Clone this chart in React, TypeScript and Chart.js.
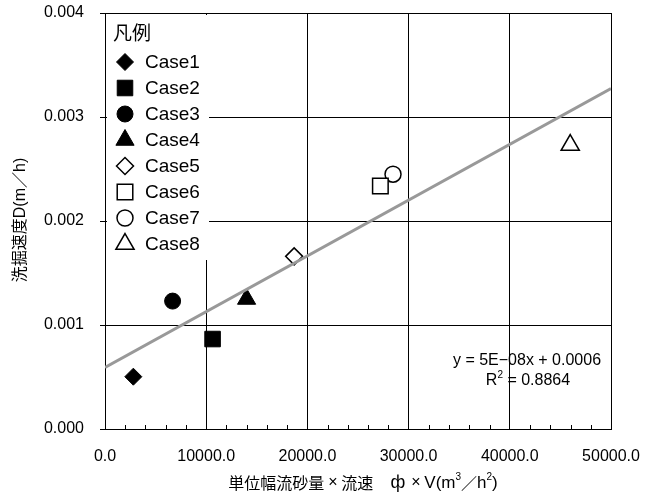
import React, { useEffect, useRef } from 'react';
import { Chart, registerables } from 'chart.js';
import { drawPoint } from 'chart.js/helpers';

Chart.register(...registerables);

// ---- data ----
const caseNames = ['Case1', 'Case2', 'Case3', 'Case4', 'Case5', 'Case6', 'Case7', 'Case8'];
const xValues = [2800, 10630, 6680, 13990, 18690, 27210, 28460, 45970];
const yValues = [0.000503, 0.000865, 0.00123, 0.00125, 0.00166, 0.002337, 0.00245, 0.00273];
const xTickValues = [0, 10000, 20000, 30000, 40000, 50000];
const yTickValues = [0, 0.001, 0.002, 0.003, 0.004];
const legendTitle = '凡例';
const equationText = 'y = 5E−08x + 0.0006';
const rSquaredText = '0.8864';
const yAxisTitle = '洗掘速度D(m／h)';

// ---- styles ----
const FONT = '"Liberation Sans", "Noto Sans CJK JP", sans-serif';
const CJK = '"Noto Sans CJK JP", sans-serif';
const pointStyles = ['rectRot', 'rect', 'circle', 'triangle', 'rectRot', 'rect', 'circle', 'triangle'];
const filled = [true, true, true, true, false, false, false, false];
const radiusByStyle: Record<string, number> = { rectRot: 8.5, rect: 11, circle: 8, triangle: 10.5 };

function fitLine(xs: number[], ys: number[]) {
  const n = xs.length;
  const mx = xs.reduce((a, b) => a + b, 0) / n;
  const my = ys.reduce((a, b) => a + b, 0) / n;
  let sxy = 0, sxx = 0;
  for (let i = 0; i < n; i++) {
    sxy += (xs[i] - mx) * (ys[i] - my);
    sxx += (xs[i] - mx) * (xs[i] - mx);
  }
  const m = sxy / sxx;
  return { m, b: my - m * mx };
}

type Seg = { t: string; font: string; box?: number; dy?: number };
const xTitleSegs: Seg[] = [
  { t: '単位幅流砂量', font: `16px ${CJK}` },
  { t: '×', font: `16px ${FONT}`, box: 17 },
  { t: '流速', font: `16px ${CJK}` },
  { t: ' ', font: `16px ${FONT}`, box: 15 },
  { t: 'ф', font: `18px ${FONT}`, box: 19 },
  { t: '×', font: `16px ${FONT}`, box: 17 },
  { t: 'V(m', font: `17px ${FONT}` },
  { t: '3', font: `10px ${FONT}`, dy: -6 },
  { t: '／', font: `16px ${CJK}` },
  { t: 'h', font: `17px ${FONT}` },
  { t: '2', font: `10px ${FONT}`, dy: -6 },
  { t: ')', font: `17px ${FONT}` },
];

const decorPlugin = {
  id: 'decor',
  afterDraw(chart: any) {
    const ctx = chart.ctx as CanvasRenderingContext2D;
    const xs = chart.scales.x;
    const area = chart.chartArea;
    ctx.save();
    // minor ticks on x axis (inside)
    ctx.strokeStyle = '#000';
    ctx.lineWidth = 1;
    for (let v = 2000; v < 50000; v += 2000) {
      if (v % 10000 === 0) continue;
      const px = Math.round(xs.getPixelForValue(v)) + 0.5;
      ctx.beginPath();
      ctx.moveTo(px, area.bottom);
      ctx.lineTo(px, area.bottom - 4);
      ctx.stroke();
    }

    // legend
    ctx.fillStyle = '#fff';
    ctx.fillRect(area.left + 2, area.top + 2, 102, 245);
    ctx.fillStyle = '#000';
    ctx.textBaseline = 'middle';
    ctx.textAlign = 'left';
    ctx.font = `19px ${FONT}`;
    ctx.fillText(legendTitle, area.left + 8, area.top + 22);
    caseNames.forEach((name, i) => {
      const cy = area.top + 49 + 26 * i;
      const cx = area.left + 20;
      const st = pointStyles[i];
      ctx.fillStyle = filled[i] ? '#000' : '#fff';
      ctx.strokeStyle = '#000';
      ctx.lineWidth = filled[i] ? 1 : 1.5;
      drawPoint(ctx, { pointStyle: st, radius: radiusByStyle[st], rotation: 0, borderWidth: filled[i] ? 1 : 1.5 } as any, cx, cy);
      ctx.fillStyle = '#000';
      ctx.fillText(name, area.left + 40, cy + 1);
    });

    // equation
    ctx.font = `16px ${FONT}`;
    ctx.textAlign = 'center';
    ctx.fillText(equationText, 527, 361);
    const supFont = `10px ${FONT}`;
    const a = 'R', c = ' = ' + rSquaredText;
    const wa = ctx.measureText(a).width;
    const wc = ctx.measureText(c).width;
    ctx.font = supFont;
    const wb = ctx.measureText('2').width;
    const total = wa + wb + wc;
    const x0 = 528 - total / 2;
    ctx.textAlign = 'left';
    ctx.font = `16px ${FONT}`;
    ctx.fillText(a, x0, 381);
    ctx.font = supFont;
    ctx.fillText('2', x0 + wa, 375);
    ctx.font = `16px ${FONT}`;
    ctx.fillText(c, x0 + wa + wb, 381);

    // x axis title
    const widthOf = (s: Seg) => {
      ctx.font = s.font;
      return s.box ?? ctx.measureText(s.t).width;
    };
    const tw = xTitleSegs.reduce((acc, s) => acc + widthOf(s), 0);
    let tx = 363 - tw / 2;
    xTitleSegs.forEach((s) => {
      const w = widthOf(s);
      ctx.font = s.font;
      if (s.box) {
        ctx.textAlign = 'center';
        ctx.fillText(s.t, tx + w / 2, 483 + (s.dy || 0));
      } else {
        ctx.textAlign = 'left';
        ctx.fillText(s.t, tx, 483 + (s.dy || 0));
      }
      tx += w;
    });

    // y axis title
    ctx.save();
    ctx.translate(21, 220);
    ctx.rotate(-Math.PI / 2);
    ctx.textAlign = 'center';
    ctx.font = `16px ${FONT}`;
    ctx.fillText(yAxisTitle, 0, 0);
    ctx.restore();

    ctx.restore();
  },
};

export default function App() {
  const ref = useRef<HTMLCanvasElement>(null);
  useEffect(() => {
    if (!ref.current) return;
    const { m, b } = fitLine(xValues, yValues);
    const xMax = xTickValues[xTickValues.length - 1];
    const datasets: any[] = caseNames.map((name, i) => {
      const st = pointStyles[i];
      return {
        type: 'scatter',
        label: name,
        data: [{ x: xValues[i], y: yValues[i] }],
        pointStyle: st,
        pointRadius: radiusByStyle[st],
        pointHoverRadius: radiusByStyle[st],
        backgroundColor: filled[i] ? '#000' : '#fff',
        borderColor: '#000',
        borderWidth: filled[i] ? 1 : 1.5,
        order: 1,
      };
    });
    datasets.push({
      type: 'line',
      label: 'trend',
      data: [
        { x: 0, y: b },
        { x: xMax, y: b + m * xMax },
      ],
      borderColor: '#999999',
      borderWidth: 3,
      pointRadius: 0,
      fill: false,
      order: 0,
    });
    const chart = new Chart(ref.current, {
      type: 'scatter',
      data: { datasets },
      plugins: [decorPlugin],
      options: {
        animation: false,
        responsive: false,
        layout: { padding: { left: 0, top: 13, right: 45, bottom: 0 } },
        plugins: { legend: { display: false }, tooltip: { enabled: false } },
        scales: {
          x: {
            type: 'linear',
            min: 0,
            max: 50000,
            afterBuildTicks: (s: any) => {
              s.ticks = xTickValues.map((v) => ({ value: v }));
            },
            afterFit: (s: any) => {
              s.height = 66;
              s.paddingLeft = 0;
              s.paddingRight = 0;
            },
            ticks: {
              color: '#000',
              font: { family: FONT, size: 16 },
              padding: 18,
              maxRotation: 0,
              callback: (v: any) => Number(v).toFixed(1),
            },
            grid: { color: '#000', lineWidth: 1, drawTicks: false },
            border: { color: '#000', width: 1 },
          },
          y: {
            type: 'linear',
            min: 0,
            max: 0.004,
            afterBuildTicks: (s: any) => {
              s.ticks = yTickValues.map((v) => ({ value: v }));
            },
            afterFit: (s: any) => {
              s.width = 105;
              s.paddingTop = 0;
              s.paddingBottom = 0;
            },
            ticks: {
              color: '#000',
              font: { family: FONT, size: 16 },
              padding: 16,
              callback: (v: any) => Number(v).toFixed(3),
            },
            grid: { color: '#000', lineWidth: 1, tickLength: 5 },
            border: { color: '#000', width: 1 },
          },
        },
      },
    });
    return () => chart.destroy();
  }, []);
  return (
    <div style={{ position: 'fixed', left: 0, top: 0, width: 656, height: 495, background: '#fff' }}>
      <canvas ref={ref} width={656} height={495} />
    </div>
  );
}
